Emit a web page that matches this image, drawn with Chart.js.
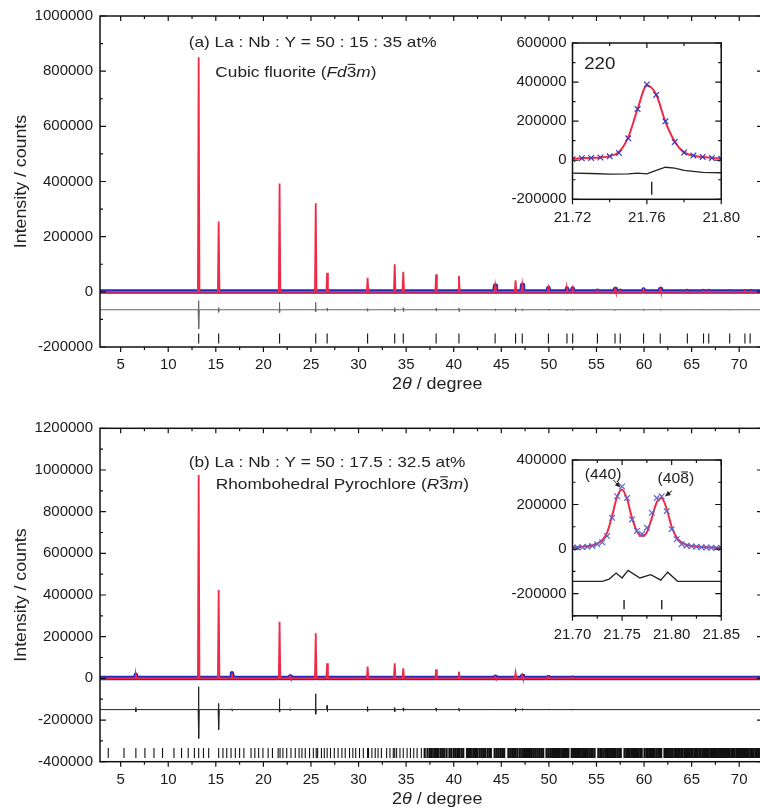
<!DOCTYPE html>
<html>
<head>
<meta charset="utf-8">
<script src="https://cdn.jsdelivr.net/npm/chart.js@4.4.1/dist/chart.umd.min.js"></script>
<style>
  html, body { margin: 0; padding: 0; background: #fff; overflow: hidden; }
  #wrap { position: relative; width: 760px; height: 809px; overflow: hidden; }
  canvas { position: absolute; }
</style>
</head>
<body>
<div id="wrap">
  <canvas id="mainA" width="780" height="395" style="left:0;top:0"></canvas>
  <canvas id="insetA" width="250" height="205" style="left:500px;top:28px"></canvas>
  <canvas id="mainB" width="780" height="409" style="left:0;top:400px"></canvas>
  <canvas id="insetB" width="250" height="205" style="left:500px;top:445px"></canvas>
</div>
<script>
// ---------- panel (a): La:Nb:Y = 50:15:35, cubic fluorite ----------
const xTicksMain = [5, 10, 15, 20, 25, 30, 35, 40, 45, 50, 55, 60, 65, 70];
const yTicksA = [-200000, 0, 200000, 400000, 600000, 800000, 1000000];
const peakPosA = [13.2, 15.3, 21.7, 25.5, 26.7, 30.95, 33.8, 34.7, 38.15, 40.55, 44.35, 46.5, 47.2, 49.95,
                  51.9, 52.5, 55.1, 56.95, 57.5, 59.95, 61.7, 64.55, 66.25, 66.8, 69.0, 70.6, 71.15];
const peakIntA = [850000, 255000, 393000, 321000, 69000, 51000, 100000, 73000, 64000, 58000, 22000, 42000, 25000, 14000,
                  12000, 12000, 4000, 10000, 4000, 8000, 10000, 3000, 3000, 3000, 2000, 2000, 2000];
const diffHiA = [-32000, -57000, -38000, -38000, -60000, -60000, -57000, -58000, -60000, -58000, -62000, -58000, -62000, -63000,
                 -63000, -63000, -64000, -63000, -64000, -63000, -63000, -64000, -64000, -64000, -64000, -64000, -64000];
const diffLoA = [-134000, -74000, -76000, -72000, -70000, -70000, -72000, -72000, -70000, -72000, -68000, -72000, -68000, -67000,
                 -67000, -67000, -66000, -67000, -66000, -67000, -67000, -66000, -66000, -66000, -66000, -66000, -66000];
const diffBaseA = -65000;
const reflA = [13.2, 15.3, 21.7, 25.5, 26.7, 30.95, 33.8, 34.7, 38.15, 40.55, 44.35, 46.5, 47.2, 49.95,
               51.9, 52.5, 55.1, 56.95, 57.5, 59.95, 61.7, 64.55, 66.25, 66.8, 69.0, 70.6, 71.15];
const reflYA = -169000;

// inset (a): 220 reflection
const insXA = [21.72, 21.725, 21.73, 21.735, 21.74, 21.745, 21.75, 21.755, 21.76, 21.765, 21.77, 21.775, 21.78, 21.785, 21.79, 21.795, 21.80];
const insObsA = [5000, 10000, 12000, 14000, 20000, 37000, 112000, 262000, 388000, 334000, 199000, 93000, 39000, 24000, 17000, 12000, 7000];
const insCalcA = [8000, 10000, 12000, 14000, 21000, 42000, 118000, 262000, 382000, 336000, 196000, 95000, 40000, 23000, 16000, 12000, 9000];
const insDiffXA = [21.72, 21.73, 21.74, 21.75, 21.755, 21.76, 21.765, 21.77, 21.775, 21.78, 21.79, 21.80];
const insDiffA = [-66000, -68000, -71000, -70000, -66000, -70000, -52000, -36000, -40000, -52000, -62000, -64000];
const insReflA = [21.7626];
const insTicksXA = [21.72, 21.76, 21.80];
const insTicksYA = [-200000, 0, 200000, 400000, 600000];

// ---------- panel (b): La:Nb:Y = 50:17.5:32.5, rhombohedral pyrochlore ----------
const yTicksB = [-400000, -200000, 0, 200000, 400000, 600000, 800000, 1000000, 1200000];
const peakPosB = [6.6, 13.2, 15.3, 16.7, 21.7, 22.8, 25.5, 26.7, 30.95, 33.8, 34.7, 38.15, 40.55, 44.35, 46.5, 47.2, 49.95, 52.5];
const peakIntB = [17000, 976000, 424000, 24000, 272000, 9000, 216000, 72000, 56000, 72000, 48000, 43000, 32000, 7000, 26000, 12000, 6000, 4000];
const diffHiB = [-140000, -40000, -120000, -146000, -98000, -146000, -74000, -130000, -136000, -140000, -142000, -142000, -143000, -148000, -142000, -146000, -148000, -148000];
const diffLoB = [-160000, -288000, -246000, -156000, -162000, -154000, -172000, -160000, -158000, -160000, -158000, -158000, -157000, -152000, -158000, -154000, -152000, -152000];
const diffBaseB = -150000;
const reflB = [3.7, 5.35, 6.6, 7.55, 8.5, 9.4, 10.6, 11.4, 12.1, 12.75, 13.2, 13.7, 14.25,
  15.3, 15.75, 16.15, 16.6, 17.05, 17.5, 17.95, 18.7, 19.1, 19.5, 19.95, 20.5, 20.95,
  21.55, 21.75, 22.05, 22.45, 22.9, 23.35, 23.75, 24.05, 24.4, 24.85, 25.25, 25.55, 25.7, 26.1, 26.4,
  26.7, 27.05, 27.45, 27.85, 28.25, 28.6, 29.05, 29.4, 29.7, 30.1, 30.5, 30.95, 31.05, 31.4, 31.75, 32.05, 32.4,
  32.95, 33.3, 33.65, 33.8, 34.0, 34.35, 34.7, 35.1, 35.45, 35.8, 36.15, 36.6, 36.95,
  37.25, 37.5, 37.7, 37.95, 38.15, 38.35, 38.6, 38.8, 39.0, 39.25, 39.55, 39.75, 40.0, 40.2, 40.4, 40.55, 40.8, 41.0,
  41.4, 41.6, 41.8, 42.05, 42.25, 42.45, 42.7, 42.9, 43.1, 43.3, 43.55, 43.75, 43.9, 44.3, 44.5, 44.7, 44.9, 45.1, 45.3,
  45.75, 45.95, 46.15, 46.35, 46.5, 46.7, 46.95, 47.2, 47.4, 47.6, 47.8, 48.0, 48.2, 48.4, 48.6, 48.8, 49.0, 49.2, 49.4,
  49.75, 49.95, 50.15, 50.35, 50.55, 50.75, 50.95, 51.1, 51.3, 51.5, 51.7, 51.9, 52.05, 52.4, 52.55, 52.75, 52.95, 53.15,
  53.3, 53.5, 53.7, 53.9, 54.05, 54.25, 54.45, 54.6, 54.8, 55.2, 55.4, 55.55, 55.75, 55.95, 56.1, 56.3, 56.5, 56.65,
  56.85, 57.0, 57.2, 57.4, 57.55, 57.95, 58.15, 58.3, 58.5, 58.7, 58.85, 59.05, 59.25, 59.4, 59.6, 59.75, 60.05, 60.25,
  60.4, 60.6, 60.75, 60.95, 61.1, 61.3, 61.5, 61.65, 61.8, 62.15, 62.3, 62.5, 62.65, 62.85, 63.0, 63.2, 63.35, 63.55,
  63.7, 63.9, 64.05, 64.25, 64.4, 64.6, 64.75, 64.95, 65.1, 65.3, 65.45, 65.6, 65.8, 65.95, 66.15, 66.3, 66.5, 66.65,
  66.8, 67.0, 67.15, 67.35, 67.5, 67.65, 67.85, 68.0, 68.2, 68.35, 68.5, 68.7, 68.85, 69.0, 69.2, 69.35, 69.5, 69.7,
  69.85, 70.0, 70.2, 70.35, 70.5, 70.7, 70.85, 71.0, 71.2, 71.35, 71.5, 71.7, 71.85, 72.0, 72.2, 72.35];
const reflYB = -358000;

// inset (b): (440) / (40-8) split
const insXB = [21.700, 21.705, 21.710, 21.715, 21.720, 21.725, 21.730, 21.735, 21.740, 21.745, 21.750, 21.755, 21.760, 21.765, 21.770, 21.775,
               21.780, 21.785, 21.790, 21.795, 21.800, 21.805, 21.810, 21.815, 21.820, 21.825, 21.830, 21.835, 21.840, 21.845, 21.850];
const insObsB = [6000, 7000, 8000, 10000, 14000, 22000, 30000, 58000, 140000, 237000, 281000, 229000, 133000, 81000, 67000, 96000,
                 163000, 229000, 237000, 170000, 89000, 44000, 22000, 15000, 12000, 10000, 8000, 7000, 6000, 5000, 5000];
const insCalcB = [8000, 9000, 10000, 12000, 16000, 24000, 40000, 75000, 150000, 235000, 268000, 225000, 140000, 80000, 58000, 75000,
                  140000, 210000, 228000, 180000, 100000, 52000, 30000, 19000, 14000, 11000, 9000, 8000, 7000, 6000, 6000];
const insDiffXB = [21.70, 21.73, 21.737, 21.744, 21.750, 21.756, 21.768, 21.779, 21.789, 21.796, 21.806, 21.85];
const insDiffB = [-145000, -145000, -135000, -108000, -130000, -96000, -130000, -115000, -140000, -104000, -145000, -145000];
const insReflB = [21.752, 21.790];
const insTicksXB = [21.70, 21.75, 21.80, 21.85];
const insTicksYB = [-200000, 0, 200000, 400000];

// ---------- style ----------
const FONT = '"Liberation Sans", Arial, Helvetica, sans-serif';
const RED = '#ee2a48';
const BLUE = '#2a2ab8';
Chart.defaults.font.family = FONT;
Chart.defaults.font.size = 15;
Chart.defaults.color = '#1a1a1a';

function xy(xs, ys) { return xs.map((x, i) => ({x: x, y: ys[i]})); }

// spike profile from peak list (at full range the peaks are only a pixel wide)
function spikes(pos, hts, base, w, lo, hi) {
  const pts = [{x: lo, y: base}];
  pos.forEach((p, i) => pts.push({x: p - w, y: base}, {x: p, y: hts[i]}, {x: p + w, y: base}));
  pts.push({x: hi, y: base});
  return pts;
}
function diffLine(pos, his, los, base, lo, hi) {
  const pts = [{x: lo, y: base}];
  pos.forEach((p, i) => pts.push({x: p - 0.06, y: base}, {x: p - 0.01, y: his[i]}, {x: p + 0.01, y: los[i]}, {x: p + 0.06, y: base}));
  pts.push({x: hi, y: base});
  return pts;
}

function drawRuns(ctx, x, y, runs, size, sx) {
  ctx.save();
  ctx.translate(x, y);
  ctx.scale(sx || 1, 1);
  ctx.textAlign = 'left';
  ctx.textBaseline = 'middle';
  let cx = 0;
  runs.forEach(r => {
    ctx.font = (r.i ? 'italic ' : '') + size + 'px ' + FONT;
    const w = ctx.measureText(r.t).width;
    ctx.fillText(r.t, cx, 0);
    if (r.bar) ctx.fillRect(cx + w * 0.1, -size * 0.58, w * 0.8, Math.max(1, size * 0.07));
    cx += w;
  });
  ctx.restore();
}
const R = (t, i, bar) => ({t: t, i: !!i, bar: !!bar});

// frame with ticks: left/top/right inward, bottom outward
const frame = {
  id: 'frame',
  afterDraw(chart, args, o) {
    const ctx = chart.ctx, a = chart.chartArea, xs = chart.scales.x, ys = chart.scales.y;
    ctx.save();
    ctx.strokeStyle = '#111';
    ctx.lineWidth = 1.5;
    ctx.strokeRect(a.left, a.top, a.right - a.left, a.bottom - a.top);
    ctx.lineWidth = 1.2;
    ctx.beginPath();
    const isMaj = (sc, v, st) => sc.ticks.some(t => Math.abs(t.value - v) < st / 10);
    for (let k = Math.ceil(xs.min / o.xMinor - 1e-6); k * o.xMinor <= xs.max + 1e-9; k++) {
      const v = k * o.xMinor, px = xs.getPixelForValue(v);
      const len = isMaj(xs, v, o.xMinor) ? 5 : 3;
      ctx.moveTo(px, a.bottom); ctx.lineTo(px, a.bottom + len);
      ctx.moveTo(px, a.top); ctx.lineTo(px, a.top + len);
    }
    for (let k = Math.ceil(ys.min / o.yMinor - 1e-6); k * o.yMinor <= ys.max + 1e-9; k++) {
      const v = k * o.yMinor, py = ys.getPixelForValue(v);
      const len = isMaj(ys, v, o.yMinor) ? 6 : 3;
      ctx.moveTo(a.left, py); ctx.lineTo(a.left + len, py);
      ctx.moveTo(a.right, py); ctx.lineTo(a.right - len, py);
    }
    ctx.stroke();
    ctx.restore();
  }
};

// labels, titles and arrows
const notes = {
  id: 'notes',
  afterDraw(chart, args, o) {
    const ctx = chart.ctx, a = chart.chartArea, xs = chart.scales.x, ys = chart.scales.y;
    ctx.save();
    ctx.fillStyle = '#222';
    ctx.strokeStyle = '#222';
    (o.items || []).forEach(n => drawRuns(ctx, xs.getPixelForValue(n.x), ys.getPixelForValue(n.y), n.runs, n.size, n.sx));
    if (o.yTitle) {
      ctx.save();
      ctx.translate(o.yTitle.x, (a.top + a.bottom) / 2);
      ctx.rotate(-Math.PI / 2);
      ctx.scale(o.yTitle.sx, 1);
      ctx.font = o.yTitle.size + 'px ' + FONT;
      ctx.textAlign = 'center';
      ctx.textBaseline = 'middle';
      ctx.fillText(o.yTitle.text, 0, 0);
      ctx.restore();
    }
    if (o.xTitle) drawRuns(ctx, o.xTitle.x, o.xTitle.y, o.xTitle.runs, o.xTitle.size, o.xTitle.sx);
    (o.arrows || []).forEach(ar => {
      const x1 = xs.getPixelForValue(ar[0]), y1 = ys.getPixelForValue(ar[1]);
      const x2 = xs.getPixelForValue(ar[2]), y2 = ys.getPixelForValue(ar[3]);
      const ang = Math.atan2(y2 - y1, x2 - x1);
      ctx.lineWidth = 1;
      ctx.beginPath(); ctx.moveTo(x1, y1); ctx.lineTo(x2, y2); ctx.stroke();
      ctx.beginPath();
      ctx.moveTo(x2, y2);
      ctx.lineTo(x2 - 6 * Math.cos(ang - 0.45), y2 - 6 * Math.sin(ang - 0.45));
      ctx.lineTo(x2 - 6 * Math.cos(ang + 0.45), y2 - 6 * Math.sin(ang + 0.45));
      ctx.closePath(); ctx.fill();
    });
    ctx.restore();
  }
};

function axes(xmin, xmax, ymin, ymax, xTicks, yTicks, yW, xH, xPad, yPad, xFmt) {
  return {
    x: {
      type: 'linear', min: xmin, max: xmax,
      grid: {display: false, drawTicks: false}, border: {display: false},
      ticks: {padding: xPad, maxRotation: 0, autoSkip: false, callback: xFmt},
      afterBuildTicks: s => { s.ticks = xTicks.map(v => ({value: v})); },
      afterFit: s => { s.height = xH; }
    },
    y: {
      type: 'linear', min: ymin, max: ymax,
      grid: {display: false, drawTicks: false}, border: {display: false},
      ticks: {padding: yPad, autoSkip: false, callback: v => String(v)},
      afterBuildTicks: s => { s.ticks = yTicks.map(v => ({value: v})); },
      afterFit: s => { s.width = yW; }
    }
  };
}

const X0 = 2.83, X1 = 72.5;
const xTitleRuns = [R('2'), R('\u03b8', true), R(' / degree')];

function mainChart(id, cfg) {
  new Chart(document.getElementById(id), {
    type: 'scatter',
    data: {
      datasets: [
        {data: spikes(cfg.pos, cfg.ints, 0, 0.08, X0, X1), showLine: true, borderColor: RED, borderWidth: 1.8, pointRadius: 0},
        {data: spikes(cfg.pos, cfg.ints, 1500, 0.08, X0, X1), showLine: true, borderColor: BLUE, borderWidth: 4.5, pointRadius: 0,
         borderJoinStyle: 'round', borderCapStyle: 'round',
         segment: {borderColor: c => (Math.max(c.p0.parsed.y, c.p1.parsed.y) > 25000 ? 'rgba(0,0,0,0)' : BLUE)}},
        {data: diffLine(cfg.pos, cfg.hi, cfg.lo, cfg.base, X0, X1), showLine: true, borderColor: cfg.diffColor, borderWidth: 1,
         pointRadius: 0, borderJoinStyle: 'bevel'},
        {data: cfg.refl.map(v => ({x: v, y: cfg.reflY})), pointStyle: 'line', rotation: 90, pointRadius: 5,
         borderColor: '#111', pointBorderColor: '#111', borderWidth: 1.1,
         pointBorderWidth: c => (c.raw && c.raw.x > cfg.denseFrom ? 2.2 : 1.1)}
      ]
    },
    options: {
      responsive: false, animation: false, events: [],
      layout: {padding: {left: 0, right: 17, top: cfg.padTop, bottom: 0}},
      plugins: {
        legend: {display: false}, tooltip: {enabled: false},
        frame: {xMinor: 2.5, yMinor: 100000},
        notes: {
          items: cfg.items,
          yTitle: {x: 22, text: 'Intensity / counts', size: 16, sx: 1.11},
          xTitle: {x: 392, y: cfg.xTitleY, runs: xTitleRuns, size: 16, sx: 1.12}
        }
      },
      scales: axes(X0, X1, cfg.ymin, cfg.ymax, xTicksMain, cfg.yTicks, 100, cfg.xH, 9, 7, v => String(v))
    },
    plugins: [frame, notes]
  });
}

function insetChart(id, cfg) {
  new Chart(document.getElementById(id), {
    type: 'scatter',
    data: {
      datasets: [
        {data: xy(cfg.x, cfg.obs), pointStyle: 'crossRot', pointRadius: 4, pointBorderWidth: 1.2,
         pointBorderColor: cfg.crossColor, borderColor: cfg.crossColor},
        {data: xy(cfg.x, cfg.calc), showLine: true, borderColor: RED, borderWidth: 2, pointRadius: 0,
         cubicInterpolationMode: 'monotone'},
        {data: xy(cfg.dx, cfg.diff), showLine: true, borderColor: '#222', borderWidth: 1.3, pointRadius: 0},
        {data: cfg.refl.map(v => ({x: v, y: cfg.reflY})), pointStyle: 'line', rotation: 90, pointRadius: cfg.reflR,
         borderColor: '#222', pointBorderColor: '#222', pointBorderWidth: 1.4}
      ]
    },
    options: {
      responsive: false, animation: false, events: [],
      layout: {padding: {left: 0, right: 20.5, top: cfg.padTop, bottom: 0}},
      plugins: {
        legend: {display: false}, tooltip: {enabled: false},
        frame: {xMinor: cfg.xMinor, yMinor: 100000},
        notes: {items: cfg.items, arrows: cfg.arrows}
      },
      scales: axes(cfg.xmin, cfg.xmax, cfg.ymin, cfg.ymax, cfg.xTicks, cfg.yTicks, 72.5, cfg.xH, 10, 6, v => v.toFixed(2))
    },
    plugins: [frame, notes]
  });
}

mainChart('mainA', {
  pos: peakPosA, ints: peakIntA, hi: diffHiA, lo: diffLoA, base: diffBaseA, diffColor: '#666',
  refl: reflA, reflY: reflYA, denseFrom: 100, ymin: -200000, ymax: 1000000, yTicks: yTicksA,
  padTop: 13, xH: 48, xTitleY: 385,
  items: [
    {x: 12.15, y: 903000, size: 15, sx: 1.15, runs: [R('(a) La : Nb : Y = 50 : 15 : 35 at%')]},
    {x: 14.95, y: 795000, size: 15, sx: 1.15, runs: [R('Cubic fluorite ('), R('Fd', true), R('3', false, true), R('m', true), R(')')]}
  ]
});

insetChart('insetA', {
  x: insXA, obs: insObsA, calc: insCalcA, dx: insDiffXA, diff: insDiffA, refl: insReflA, reflY: -143000, reflR: 6.5,
  crossColor: '#3a3ab8', xmin: 21.72, xmax: 21.80, ymin: -200000, ymax: 600000,
  xTicks: insTicksXA, yTicks: insTicksYA, xMinor: 0.02, padTop: 13.7, xH: 33.7,
  items: [{x: 21.7263, y: 491000, size: 17, sx: 1.1, runs: [R('220')]}]
});

mainChart('mainB', {
  pos: peakPosB, ints: peakIntB, hi: diffHiB, lo: diffLoB, base: diffBaseB, diffColor: '#222',
  refl: reflB, reflY: reflYB, denseFrom: 36.9, ymin: -400000, ymax: 1200000, yTicks: yTicksB,
  padTop: 28.3, xH: 47.3, xTitleY: 400,
  items: [
    {x: 12.15, y: 1032000, size: 15, sx: 1.15, runs: [R('(b) La : Nb : Y = 50 : 17.5 : 32.5 at%')]},
    {x: 15.0, y: 928000, size: 15, sx: 1.15, runs: [R('Rhombohedral Pyrochlore ('), R('R', true), R('3', false, true), R('m', true), R(')')]}
  ]
});

insetChart('insetB', {
  x: insXB, obs: insObsB, calc: insCalcB, dx: insDiffXB, diff: insDiffB, refl: insReflB, reflY: -250000, reflR: 4.7,
  crossColor: '#5a66d0', xmin: 21.70, xmax: 21.85, ymin: -300000, ymax: 400000,
  xTicks: insTicksXB, yTicks: insTicksYB, xMinor: 0.025, padTop: 13.3, xH: 34.2,
  items: [
    {x: 21.7124, y: 330000, size: 14, sx: 1.12, runs: [R('(440)')]},
    {x: 21.7858, y: 312000, size: 14, sx: 1.12, runs: [R('(40'), R('8', false, true), R(')')]}
  ],
  arrows: [[21.741, 311000, 21.7483, 277000], [21.8005, 262000, 21.7935, 237000]]
});
</script>
</body>
</html>
